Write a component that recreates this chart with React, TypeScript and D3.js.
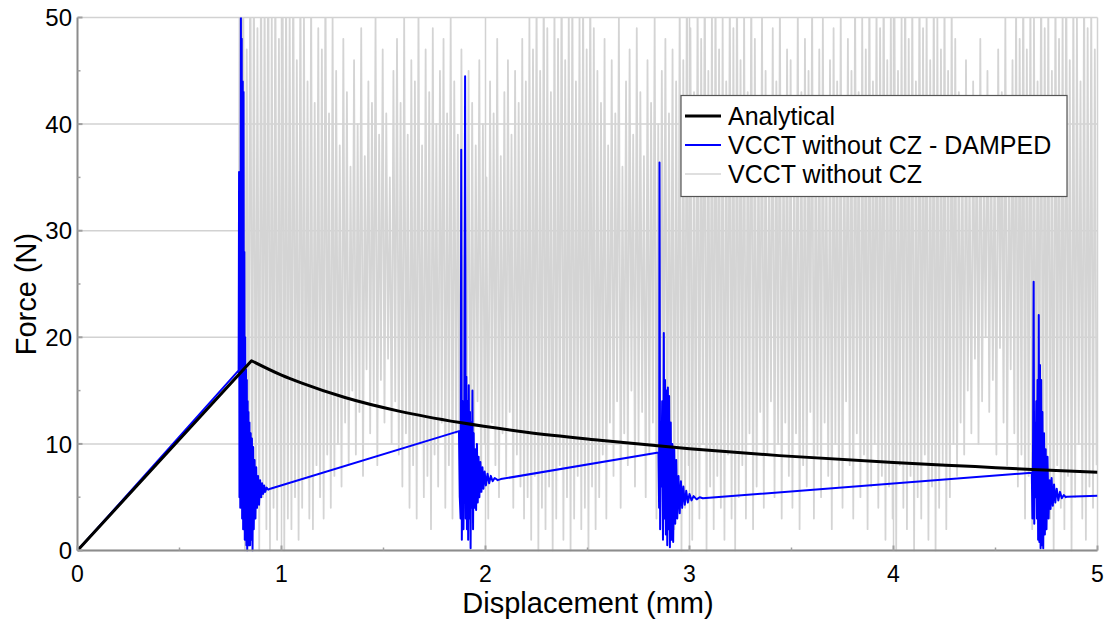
import React from "react";
import * as d3 from "d3";

// ---------- tick labels ----------
const xTicks = [0, 1, 2, 3, 4, 5];
const yTicks = [0, 10, 20, 30, 40, 50];
const xMinorTicks = [0.5, 1.5, 2.5, 3.5, 4.5];
const yMinorTicks = [5, 15, 25, 35, 45];

const seriesNames = ["Analytical", "VCCT without CZ - DAMPED", "VCCT without CZ"];
const seriesColors = ["#000000", "#0000ff", "#d4d4d4"];

// ---------- Analytical ----------
const analyticalRampX = [0, 0.853];
const analyticalRampY = [0, 17.8];
const analyticalDecayX = [0.853, 1.0, 1.1, 1.311, 1.581, 1.875, 2.2, 2.56, 3.0, 3.44, 4.0, 4.4, 4.68, 5.0];
const analyticalDecayY = [17.8, 16.45, 15.7, 14.35, 13.05, 12.0, 11.1, 10.35, 9.55, 8.9, 8.25, 7.87, 7.6, 7.33];

// ---------- VCCT without CZ - DAMPED ----------
const dampedRamp: [number, number][] = [[0, 0], [0.79, 16.9]];
const dampedBurst1: [number, number][] = [
  [0.792, 35.5], [0.794, 5], [0.796, 30], [0.798, 4], [0.801, 52], [0.803, 8], [0.805, 48], [0.807, 3],
  [0.81, 44], [0.812, 2], [0.814, 43], [0.816, 6], [0.818, 28], [0.82, 1], [0.822, 20], [0.824, 3],
  [0.826, 17], [0.828, 0.5], [0.83, 16], [0.832, 0], [0.834, 14], [0.836, 1], [0.838, 13], [0.84, 0.5],
  [0.843, 12], [0.846, 0.5], [0.849, 11], [0.852, 1], [0.855, 10.5], [0.858, 0], [0.861, 9.7], [0.864, 2],
  [0.868, 8.5], [0.872, 3], [0.876, 7.8], [0.88, 4], [0.885, 7], [0.89, 4.3], [0.895, 6.6], [0.9, 5],
  [0.905, 6.3], [0.91, 5.3], [0.915, 6.1], [0.92, 5.5], [0.927, 5.9], [0.935, 5.7], [0.945, 5.8],
];
const dampedBurst2: [number, number][] = [
  [1.87, 11.2], [1.874, 5], [1.878, 3], [1.881, 37.6], [1.884, 1], [1.888, 14], [1.892, 2], [1.896, 12],
  [1.9, 44.5], [1.903, 3], [1.906, 16.3], [1.909, 2], [1.912, 14], [1.915, 1], [1.918, 15.5], [1.921, 3],
  [1.924, 13], [1.927, 0.2], [1.93, 12], [1.933, 4], [1.936, 15], [1.939, 2], [1.942, 11], [1.946, 4],
  [1.95, 9.5], [1.954, 3.8], [1.958, 10], [1.962, 4.5], [1.966, 8.8], [1.97, 5], [1.975, 8.3], [1.98, 5.5],
  [1.985, 7.8], [1.99, 5.8], [1.996, 7.4], [2.002, 6.1], [2.01, 7.2], [2.018, 6.3], [2.026, 7.0], [2.035, 6.5],
  [2.045, 6.8], [2.06, 6.6], [2.075, 6.7],
];
const dampedBurst3: [number, number][] = [
  [2.848, 9.2], [2.851, 4], [2.853, 36.4], [2.856, 2], [2.859, 12], [2.862, 6], [2.866, 14], [2.87, 1],
  [2.874, 20.4], [2.877, 3], [2.88, 16], [2.884, 1.5], [2.888, 15], [2.891, 0.5], [2.894, 15.3], [2.897, 2],
  [2.9, 14.5], [2.904, 0.3], [2.908, 12], [2.912, 1], [2.916, 10], [2.92, 0.8], [2.925, 9.5], [2.93, 2.5],
  [2.935, 8.5], [2.94, 3], [2.946, 7], [2.952, 3.5], [2.958, 6.5], [2.964, 4], [2.97, 6], [2.977, 4.3],
  [2.984, 5.6], [2.992, 4.5], [3.0, 5.3], [3.01, 4.7], [3.02, 5.1], [3.035, 4.8], [3.05, 5.0], [3.065, 4.9],
];
const dampedBurst4: [number, number][] = [
  [4.678, 7.3], [4.681, 3], [4.684, 10], [4.687, 25.2], [4.69, 2.5], [4.693, 12], [4.696, 5], [4.7, 14],
  [4.703, 3], [4.706, 16], [4.709, 1], [4.712, 22.1], [4.715, 0.8], [4.718, 17.4], [4.721, 0.2], [4.724, 16],
  [4.727, 0.5], [4.73, 13], [4.734, 0.2], [4.738, 11], [4.742, 1.5], [4.746, 9.5], [4.75, 2], [4.755, 8.8],
  [4.76, 3], [4.765, 6.6], [4.77, 3.9], [4.775, 6.8], [4.781, 4.2], [4.787, 6.2], [4.793, 4.5], [4.8, 5.8],
  [4.808, 4.7], [4.816, 5.5], [4.825, 4.9], [4.835, 5.2], [4.845, 5.0], [4.85, 5.05], [5.0, 5.14],
];

// ---------- VCCT without CZ (undamped) ----------
const undampedRamp: [number, number][] = [[0, 0], [0.79, 16.6]];
const undampedStart = 0.79;
const undampedEnd = 5.0;
const undampedPeaks = [
  52, 58, 47, 60, 55, 49, 57, 53, 61, 50, 56, 48, 59, 54, 51, 57, 46, 55, 50, 44,
  53, 42, 49, 47, 55, 41, 50, 45, 38, 48, 43, 36, 46, 40, 49, 37, 44, 42, 50, 39,
  47, 41, 35, 45, 48, 42, 50, 39, 46, 44, 51, 38, 47, 43, 49, 40, 45, 48, 41, 50,
  44, 39, 47, 36, 45, 42, 38, 46, 40, 35, 44, 41, 48, 37, 43, 46, 39, 45, 42, 48,
  44, 50, 47, 53, 45, 55, 49, 43, 52, 48, 56, 46, 51, 54, 44, 50, 53, 47, 55, 49,
  45, 42, 48, 38, 46, 41, 50, 36, 44, 47, 39, 49, 43, 37, 46, 42, 50, 40, 45, 48,
  41, 47, 44, 52, 46, 55, 49, 43, 53, 48, 56, 45, 51, 54, 47, 50, 44, 53, 49, 55,
  46, 51, 43, 54, 48, 40, 50, 45, 38, 49, 44, 52, 41, 47, 46, 39, 51, 43, 48, 45,
  52, 42, 47, 50, 38, 46, 49, 44, 51, 40, 48, 45, 53, 43, 50, 47, 55, 44, 52, 49,
  56, 46, 51, 54, 45, 50, 57, 48, 53, 44, 55, 49, 51, 46, 54, 50, 47, 53, 45, 52,
  48, 43, 40, 46, 37, 44, 41, 48, 36, 45, 42, 39, 47, 43, 50, 38, 46, 52, 48, 55,
  47, 53, 50, 44, 56, 49, 52, 45, 54, 48, 51, 57, 46, 53, 50, 44, 55, 49, 52, 47,
];
const undampedTroughs = [
  4, 0, 6, 1, 3, 0, 5, 2, 0, 4, 1, 6, 0, 3, 2, 5, 1, 4, 7, 3,
  2, 8, 5, 3, 9, 4, 7, 10, 6, 12, 8, 15, 9, 13, 7, 17, 11, 14, 8, 16,
  12, 18, 10, 14, 9, 6, 11, 4, 8, 3, 10, 5, 7, 2, 9, 6, 12, 4, 8, 3,
  11, 5, 7, 13, 4, 9, 14, 6, 10, 3, 12, 8, 5, 11, 7, 13, 4, 9, 6, 3,
  5, 1, 7, 0, 4, 2, 6, 0, 3, 8, 1, 5, 0, 3, 7, 2, 4, 0, 6, 2,
  5, 9, 3, 12, 7, 14, 4, 11, 8, 15, 6, 10, 13, 5, 9, 12, 3, 8, 11, 4,
  9, 2, 7, 0, 4, 8, 1, 5, 3, 10, 0, 6, 2, 7, 4, 1, 9, 3, 0, 5,
  8, 3, 11, 2, 6, 13, 4, 9, 14, 5, 10, 3, 12, 7, 4, 11, 2, 8, 6, 13,
  3, 9, 5, 12, 7, 2, 10, 6, 4, 14, 8, 3, 11, 5, 9, 2, 6, 10, 4, 7,
  1, 6, 3, 0, 8, 4, 2, 7, 0, 5, 3, 9, 1, 6, 0, 4, 8, 2, 5, 10,
  7, 12, 9, 15, 11, 18, 10, 14, 20, 13, 16, 9, 19, 12, 8, 17, 11, 6, 9, 3,
  7, 2, 5, 9, 1, 6, 3, 0, 8, 4, 2, 7, 0, 5, 10, 3, 1, 6, 4, 8,
];

const W = 1108;
const H = 621;
const FONT = "'Liberation Sans', Arial, sans-serif";

export default function App() {
  const x = d3.scaleLinear().domain([0, 5]).range([77.5, 1097.5]);
  const y = d3.scaleLinear().domain([0, 50]).range([550.5, 17.5]);

  const line = d3
    .line<[number, number]>()
    .x((d) => x(d[0]))
    .y((d) => y(d[1]));
  const smooth = d3
    .line<[number, number]>()
    .x((d) => x(d[0]))
    .y((d) => y(d[1]))
    .curve(d3.curveMonotoneX);

  const rampPts: [number, number][] = analyticalRampX.map((v, i) => [v, analyticalRampY[i]]);
  const decayPts: [number, number][] = analyticalDecayX.map((v, i) => [v, analyticalDecayY[i]]);
  const analyticalPath = (line(rampPts) || "") + " " + (smooth(decayPts) || "").replace(/^M/, "L");

  const dampedPts: [number, number][] = [
    ...dampedRamp,
    ...dampedBurst1,
    ...dampedBurst2,
    ...dampedBurst3,
    ...dampedBurst4,
  ];

  const n = undampedPeaks.length;
  const dx = (undampedEnd - undampedStart) / n;
  const undampedPts: [number, number][] = [...undampedRamp];
  for (let i = 0; i < n; i++) {
    undampedPts.push([undampedStart + (i + 0.25) * dx, undampedPeaks[i]]);
    undampedPts.push([undampedStart + (i + 0.75) * dx, undampedTroughs[i]]);
  }

  const [x0, x1] = x.range();
  const [yb, yt] = y.range();

  return (
    <svg
      width={W}
      height={H}
      style={{ position: "absolute", left: 0, top: 0, background: "#fff" }}
      fontFamily={FONT}
    >
      <defs>
        <clipPath id="plot">
          <rect x={x0} y={yt} width={x1 - x0} height={yb - yt + 1} />
        </clipPath>
      </defs>
      <rect x={0} y={0} width={W} height={H} fill="#fff" />

      {/* grid */}
      {yTicks.map((t) => (
        <line key={"gy" + t} x1={x0} x2={x1} y1={y(t)} y2={y(t)} stroke="#d2d2d2" strokeWidth={1.5} />
      ))}
      {xTicks.slice(1).map((t) => (
        <line key={"gx" + t} x1={x(t)} x2={x(t)} y1={yt} y2={yb} stroke="#d2d2d2" strokeWidth={1.5} />
      ))}

      {/* series */}
      <g clipPath="url(#plot)" fill="none" strokeLinejoin="round">
        <path d={line(undampedPts) || ""} stroke={seriesColors[2]} strokeWidth={1.8} />
        <path d={line(dampedPts) || ""} stroke={seriesColors[1]} strokeWidth={2} />
        <path d={analyticalPath} stroke={seriesColors[0]} strokeWidth={3} />
      </g>

      {/* axes */}
      <line x1={x0} x2={x0} y1={yt} y2={yb} stroke="#8c8c8c" strokeWidth={2} />
      <line x1={x0} x2={x1} y1={yb} y2={yb} stroke="#8c8c8c" strokeWidth={2} />
      {yTicks.map((t) => (
        <line key={"ty" + t} x1={x0} x2={x0 + 5} y1={y(t)} y2={y(t)} stroke="#a0a0a0" strokeWidth={2} />
      ))}
      {yMinorTicks.map((t) => (
        <line key={"tmy" + t} x1={x0} x2={x0 + 3} y1={y(t)} y2={y(t)} stroke="#a0a0a0" strokeWidth={1.5} />
      ))}
      {xTicks.map((t) => (
        <line key={"tx" + t} x1={x(t)} x2={x(t)} y1={yb} y2={yb - 5} stroke="#a0a0a0" strokeWidth={2} />
      ))}
      {xMinorTicks.map((t) => (
        <line key={"tmx" + t} x1={x(t)} x2={x(t)} y1={yb} y2={yb - 3} stroke="#a0a0a0" strokeWidth={1.5} />
      ))}

      {/* tick labels */}
      {yTicks.map((t) => (
        <text key={"ly" + t} x={72} y={y(t)} dy="0.36em" textAnchor="end" fontSize={24} fill="#000">
          {t}
        </text>
      ))}
      {xTicks.map((t) => (
        <text key={"lx" + t} x={x(t)} y={582} textAnchor="middle" fontSize={23} fill="#000">
          {t}
        </text>
      ))}

      {/* axis titles */}
      <text x={588} y={613} textAnchor="middle" fontSize={29} fill="#000">
        Displacement (mm)
      </text>
      <text
        transform={`translate(36, ${(yt + yb) / 2 + 10}) rotate(-90)`}
        textAnchor="middle"
        fontSize={29}
        fill="#000"
      >
        Force (N)
      </text>

      {/* legend */}
      <g>
        <rect x={681} y={95.5} width={386} height={101} fill="#fff" stroke="#555" strokeWidth={1.2} />
        {seriesNames.map((name, i) => {
          const ly = 116 + i * 29;
          return (
            <g key={name}>
              <line
                x1={685}
                x2={721}
                y1={ly}
                y2={ly}
                stroke={seriesColors[i]}
                strokeWidth={i === 0 ? 3 : i === 1 ? 2 : 1.5}
              />
              <text x={728} y={ly + 9} fontSize={25} fill="#000">
                {name}
              </text>
            </g>
          );
        })}
      </g>
    </svg>
  );
}
